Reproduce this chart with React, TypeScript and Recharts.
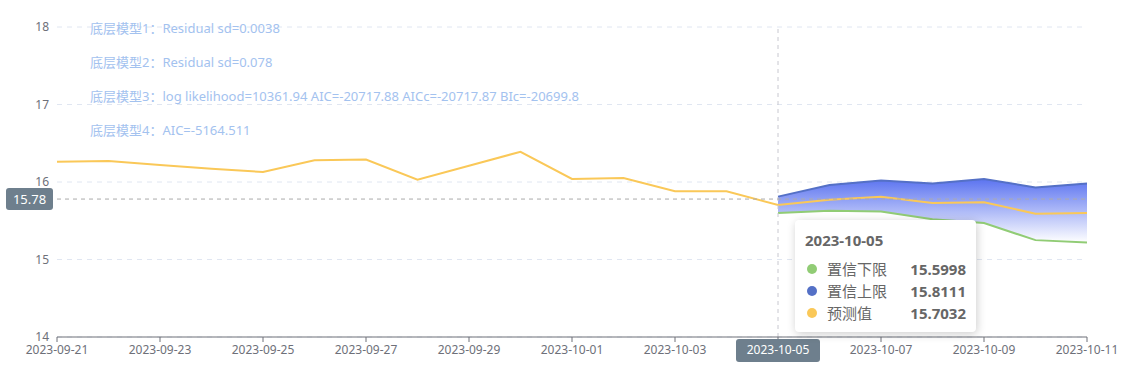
import {
  Area,
  CartesianGrid,
  ComposedChart,
  Line,
  ReferenceLine,
  Tooltip,
  XAxis,
  YAxis,
} from 'recharts';

const dates = [
  '2023-09-21', '2023-09-22', '2023-09-23', '2023-09-24', '2023-09-25', '2023-09-26', '2023-09-27',
  '2023-09-28', '2023-09-29', '2023-09-30', '2023-10-01', '2023-10-02', '2023-10-03', '2023-10-04',
  '2023-10-05', '2023-10-06', '2023-10-07', '2023-10-08', '2023-10-09', '2023-10-10', '2023-10-11',
];

const predicted = [
  16.26, 16.27, 16.22, 16.17, 16.13, 16.28, 16.29, 16.03, 16.21, 16.39, 16.04, 16.05, 15.88, 15.88,
  15.7032, 15.77, 15.81, 15.73, 15.74, 15.59, 15.6,
];

// confidence band only exists from 2023-10-05 on
const lowerBound: (number | null)[] = [
  null, null, null, null, null, null, null, null, null, null, null, null, null, null,
  15.5998, 15.63, 15.62, 15.52, 15.47, 15.25, 15.22,
];
const upperBound: (number | null)[] = [
  null, null, null, null, null, null, null, null, null, null, null, null, null, null,
  15.8111, 15.96, 16.02, 15.98, 16.04, 15.93, 15.98,
];

const yTicks = [14, 15, 16, 17, 18];

const notes = [
  '底层模型1：Residual sd=0.0038',
  '底层模型2：Residual sd=0.078',
  '底层模型3：log likelihood=10361.94 AIC=-20717.88 AICc=-20717.87 BIc=-20699.8',
  '底层模型4：AIC=-5164.511',
];

const pointerDate = '2023-10-05';
const pointerValue = 15.78;
const pointerIndex = dates.indexOf(pointerDate);

const FONT = '"Noto Sans", "Noto Sans CJK SC", sans-serif';
const AXIS_COLOR = '#6e7079';
const POINTER_BG = '#6e7f8d';

type Row = {
  date: string;
  pred: number;
  lower: number | null;
  upper: number | null;
  band: [number, number] | null;
};

const data: Row[] = dates.map((date, i) => ({
  date,
  pred: predicted[i],
  lower: lowerBound[i],
  upper: upperBound[i],
  band: lowerBound[i] != null && upperBound[i] != null ? [lowerBound[i]!, upperBound[i]!] : null,
}));

function ChartTooltip({ active, label }: { active?: boolean; label?: string }) {
  if (!active) return null;
  const row = data.find((d) => d.date === label) ?? data[pointerIndex];
  const items = [
    { name: '置信下限', color: '#91cc75', value: row.lower },
    { name: '置信上限', color: '#5470c6', value: row.upper },
    { name: '预测值', color: '#fac858', value: row.pred },
  ];
  return (
    <div
      style={{
        width: 161,
        padding: '9px 10px 8px 10px',
        background: '#fff',
        borderRadius: 4,
        boxShadow: 'rgba(0,0,0,0.2) 1px 2px 10px',
        fontFamily: FONT,
        color: '#666',
      }}
    >
      <div style={{ fontSize: 15, fontWeight: 700, lineHeight: '22px', marginBottom: 7 }}>{row.date}</div>
      {items.map((it) => (
        <div key={it.name} style={{ display: 'flex', alignItems: 'center', fontSize: 15, lineHeight: '22px' }}>
          <span
            style={{
              width: 10,
              height: 10,
              borderRadius: 5,
              background: it.color,
              marginLeft: 2,
              marginRight: 10,
            }}
          />
          <span style={{ flex: 1 }}>{it.name}</span>
          <span style={{ fontWeight: 700 }}>{it.value?.toFixed(4)}</span>
        </div>
      ))}
    </div>
  );
}

function DateTick({ x, y, payload }: { x?: number; y?: number; payload?: { value: string } }) {
  if (x == null || y == null || !payload) return null;
  if (payload.value === pointerDate) {
    return (
      <g>
        <rect x={x - 42} y={y - 6} width={84} height={23} rx={3} fill={POINTER_BG} />
        <text x={x} y={y + 6} fill="#fff" fontSize={12} fontFamily={FONT} textAnchor="middle" dominantBaseline="middle">
          {payload.value}
        </text>
      </g>
    );
  }
  return (
    <text x={x} y={y + 6} fill={AXIS_COLOR} fontSize={12} fontFamily={FONT} textAnchor="middle" dominantBaseline="middle">
      {payload.value}
    </text>
  );
}

function YPointerLabel({ viewBox }: { viewBox?: { x: number; y: number } }) {
  if (!viewBox) return null;
  const { x, y } = viewBox;
  return (
    <g>
      <rect x={x - 51} y={y - 11} width={47} height={22} rx={3} fill={POINTER_BG} />
      <text x={x - 27.5} y={y + 1} fill="#fff" fontSize={13} fontFamily={FONT} textAnchor="middle" dominantBaseline="middle">
        {pointerValue}
      </text>
    </g>
  );
}

export default function App() {
  return (
    <div style={{ position: 'absolute', left: 0, top: 0, width: 1128, height: 377, background: '#fff' }}>
      <ComposedChart
        width={1128}
        height={377}
        data={data}
        margin={{ top: 27, right: 41, left: 0, bottom: 0 }}
      >
        <defs>
          <linearGradient id="bandFill" x1="0" y1="0" x2="0" y2="1">
            <stop offset="0%" stopColor="#5b73f0" stopOpacity={1} />
            <stop offset="100%" stopColor="#ffffff" stopOpacity={1} />
          </linearGradient>
        </defs>
        <CartesianGrid vertical={false} stroke="#e0e6f1" strokeDasharray="5 5" />
        <XAxis
          dataKey="date"
          scale="point"
          padding={{ left: 0, right: 0 }}
          interval={1}
          height={40}
          tickSize={5}
          tickMargin={3}
          axisLine={{ stroke: AXIS_COLOR }}
          tickLine={{ stroke: AXIS_COLOR }}
          tick={<DateTick />}
        />
        <YAxis
          width={57}
          domain={[14, 18]}
          ticks={yTicks}
          axisLine={false}
          tickLine={false}
          tick={{ fill: AXIS_COLOR, fontSize: 12, fontFamily: FONT }}
        />
        <Area
          dataKey="band"
          stroke="none"
          fill="url(#bandFill)"
          fillOpacity={1}
          isAnimationActive={false}
          activeDot={false}
        />
        <Line dataKey="upper" stroke="#5470c6" strokeWidth={2} dot={false} activeDot={false} isAnimationActive={false} />
        <Line dataKey="lower" stroke="#91cc75" strokeWidth={2} dot={false} activeDot={false} isAnimationActive={false} />
        <Line dataKey="pred" stroke="#fac858" strokeWidth={2} dot={false} activeDot={false} isAnimationActive={false} />
        <ReferenceLine x={pointerDate} stroke="#c8c8d0" strokeDasharray="4 4" />
        <ReferenceLine y={pointerValue} stroke="#aaaaaa" strokeDasharray="4 4" label={<YPointerLabel />} />
        <Tooltip
          defaultIndex={pointerIndex}
          active
          cursor={false}
          isAnimationActive={false}
          position={{ x: 795, y: 220 }}
          content={<ChartTooltip />}
        />
      </ComposedChart>
      {notes.map((note, i) => (
        <div
          key={note}
          style={{
            position: 'absolute',
            left: 90,
            top: 19 + i * 34,
            fontFamily: FONT,
            fontSize: 13,
            lineHeight: '18px',
            color: '#a3c2ef',
            whiteSpace: 'nowrap',
            pointerEvents: 'none',
          }}
        >
          {note}
        </div>
      ))}
    </div>
  );
}
